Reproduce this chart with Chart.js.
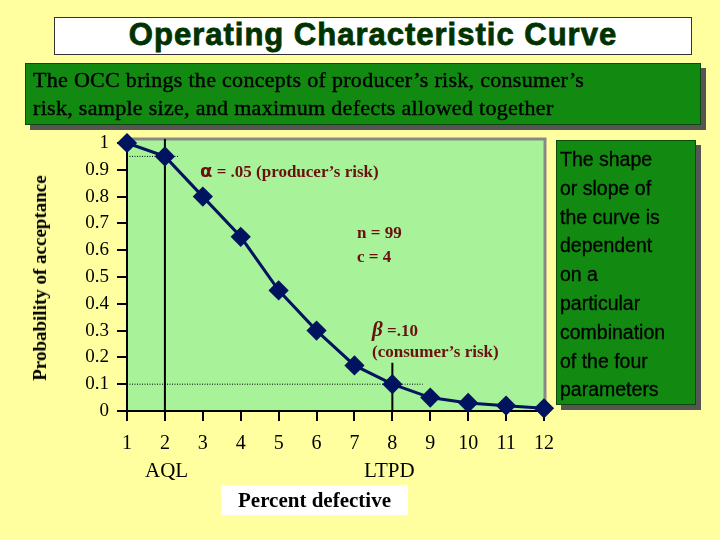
<!DOCTYPE html>
<html><head><meta charset="utf-8">
<script src="https://cdn.jsdelivr.net/npm/chart.js@4"></script>
<style>
html,body{margin:0;padding:0;background:#FFFFA0;width:720px;height:540px;overflow:hidden;font-family:"Liberation Serif",serif}
#c{position:absolute;left:0;top:0}
.abs{position:absolute}
.gbox{background:#128A12;box-shadow:5px 5px 0 #555;border:1px solid #0a4a0a;color:#000}
.ann{position:absolute;color:#6A1010;font-weight:bold;font-size:17px;white-space:nowrap}
</style></head><body>
<canvas id="c" width="720" height="540"></canvas>
<div class="abs" style="left:54px;top:17px;width:636px;height:36px;background:#fff;border:1px solid #333;text-align:center;font-family:'Liberation Sans',sans-serif;font-weight:bold;font-size:31px;line-height:34px;color:#003300;letter-spacing:1px;-webkit-text-stroke:0.8px #003300">Operating Characteristic Curve</div>
<div class="abs gbox" style="left:25px;top:63px;width:676px;height:62px;font-size:22px;line-height:28px;padding:2px 0 0 7px;box-sizing:border-box;letter-spacing:0.3px;-webkit-text-stroke:0.4px #000">The OCC brings the concepts of producer’s risk, consumer’s<br>risk, sample size, and maximum defects allowed together</div>
<div class="abs gbox" style="left:556px;top:140px;width:140px;height:265px;font-family:'Liberation Sans',sans-serif;font-size:19.5px;line-height:28.8px;padding:4px 0 0 3px;box-sizing:border-box;-webkit-text-stroke:0.3px #000">The shape<br>or slope of<br>the curve is<br>dependent<br>on a<br>particular<br>combination<br>of the four<br>parameters</div>
<div class="abs" style="left:40px;top:278px;transform:translate(-50%,-50%) rotate(-90deg);font-weight:bold;font-size:19px;white-space:nowrap">Probability of acceptance</div>
<div class="abs" style="left:145px;top:458px;font-size:21px">AQL</div>
<div class="abs" style="left:364px;top:458px;font-size:21px">LTPD</div>
<div class="abs" style="left:221px;top:485px;width:187px;height:30px;background:#fff;font-weight:bold;font-size:21px;line-height:30px;text-align:center">Percent defective</div>
<div class="ann" style="left:200px;top:160px"><span style="font-family:'DejaVu Sans';font-size:18px">α</span> = .05 (producer’s risk)</div>
<div class="ann" style="left:357px;top:221px;line-height:24px">n = 99<br>c = 4</div>
<div class="ann" style="left:372px;top:317px"><i style="font-size:21px">β</i> =.10</div>
<div class="ann" style="left:372px;top:342px">(consumer’s risk)</div>
<script>
const percentDefective=[1,2,3,4,5,6,7,8,9,10,11,12];
const probAccept=[1.0,0.95,0.80,0.65,0.45,0.30,0.17,0.10,0.05,0.03,0.02,0.01];
const yTickLabels=['0','0.1','0.2','0.3','0.4','0.5','0.6','0.7','0.8','0.9','1'];
const aqlX=2, ltpdX=8, alphaY=0.95, betaY=0.10;

const deco={id:'deco',
beforeDatasetsDraw(ch){const {ctx,chartArea:a,scales:{x,y}}=ch;ctx.save();
 ctx.strokeStyle='#000';ctx.lineWidth=2;
 ctx.beginPath();ctx.moveTo(x.getPixelForValue(aqlX),a.top-4);ctx.lineTo(x.getPixelForValue(aqlX),a.bottom);ctx.stroke();
 ctx.beginPath();ctx.moveTo(x.getPixelForValue(ltpdX),y.getPixelForValue(0.18));ctx.lineTo(x.getPixelForValue(ltpdX),a.bottom);ctx.stroke();
 ctx.lineWidth=1;ctx.setLineDash([1,1.5]);
 ctx.beginPath();ctx.moveTo(a.left,y.getPixelForValue(alphaY));ctx.lineTo(x.getPixelForValue(2.38),y.getPixelForValue(alphaY));ctx.stroke();
 ctx.beginPath();ctx.moveTo(a.left,y.getPixelForValue(betaY));ctx.lineTo(x.getPixelForValue(8.8),y.getPixelForValue(betaY));ctx.stroke();
 ctx.restore();},
beforeDraw(ch){const {ctx,chartArea:a}=ch;ctx.save();ctx.fillStyle='#A8F29A';ctx.fillRect(a.left,a.top-4,a.right-a.left+1,a.bottom-a.top+4);
 ctx.strokeStyle='#888';ctx.lineWidth=3;ctx.beginPath();ctx.moveTo(a.left,a.top-4);ctx.lineTo(a.right+1,a.top-4);ctx.lineTo(a.right+1,a.bottom);ctx.stroke();ctx.restore();}
};
new Chart(document.getElementById('c'),{type:'scatter',
data:{datasets:[{data:percentDefective.map((v,i)=>({x:v,y:probAccept[i]})),showLine:true,clip:false,borderColor:'#00135E',backgroundColor:'#00135E',borderWidth:3,pointStyle:'rectRot',pointRadius:8,pointHoverRadius:8}]},
options:{responsive:false,animation:false,events:[],layout:{padding:{left:0,right:176,top:143,bottom:0}},
plugins:{legend:{display:false},tooltip:{enabled:false}},
scales:{
x:{type:'linear',min:1,max:12,afterFit(s){s.height=129;},
 afterBuildTicks(s){s.ticks=percentDefective.map(v=>({value:v}));},
 grid:{drawOnChartArea:false,color:'#000',lineWidth:2,tickLength:10},border:{color:'#000',width:2},
 ticks:{color:'#000',font:{family:'Liberation Serif',size:20},padding:11}},
y:{min:0,max:1,afterFit(s){s.width=127;},
 afterBuildTicks(s){s.ticks=yTickLabels.map(t=>({value:parseFloat(t)}));},
 grid:{drawOnChartArea:false,color:'#000',lineWidth:2,tickLength:10},border:{color:'#000',width:2},
 ticks:{color:'#000',font:{family:'Liberation Serif',size:19},padding:8,callback:(v,i)=>yTickLabels[i]}}
}},plugins:[deco]});
</script></body></html>
